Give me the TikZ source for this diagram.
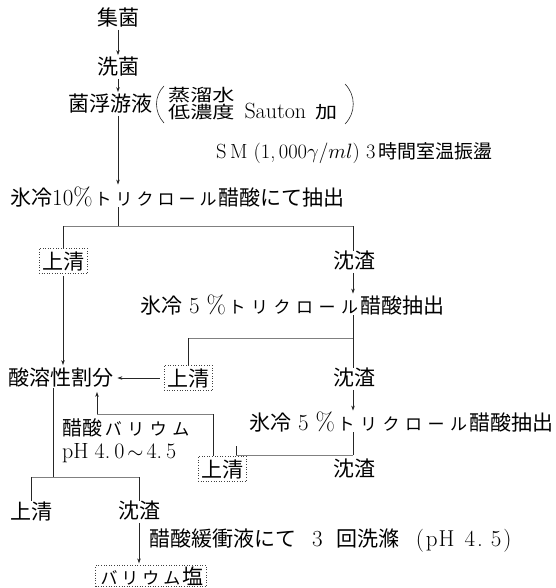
\documentclass[tikz,border=0pt]{standalone}
\usepackage{fontspec}
\usepackage{graphicx}
\newfontfamily\jp{Noto Sans CJK JP}
\usetikzlibrary{arrows.meta}
\newcommand\kc[1]{\makebox[21pt]{\fontsize{17}{17}\selectfont #1}}
\newcommand\kcw[1]{\makebox[22.5pt]{\fontsize{17}{17}\selectfont #1}}
\newcommand\lt[1]{{\rmfamily\fontsize{23}{24}\selectfont #1}}
\newcommand\pct{{\rmfamily\fontsize{25}{25}\selectfont\%}}
\begin{document}
\begin{tikzpicture}[x=1pt,y=-1pt,
  lbl/.style={font=\fontsize{21}{23}\selectfont\jp, inner sep=0pt},
  small/.style={font=\fontsize{17}{18}\selectfont\jp, inner sep=0pt},
  dbox/.style={lbl, draw=black!75, dotted, line width=0.6pt, inner sep=3pt},
  ln/.style={line width=0.6pt, black!85},
  hl/.style={line width=0.5pt, black!50},
  arr/.style={ln, -{Stealth[length=5pt,width=3.5pt]}},
]
\useasboundingbox[fill=white] (0,0) rectangle (555,588);

% top chain
\node[lbl] (jk) at (118,18) {集菌};
\node[lbl] (sk) at (118,67) {洗菌};
\node[lbl, anchor=east] (kf) at (153,104) {菌浮游液};
\draw[arr, shorten <=2pt, shorten >=2pt] (jk.south) -- (sk.north);
\draw[arr, shorten <=2pt, shorten >=2pt] (sk.south) -- (sk.south |- kf.north);

% bracket text
\node[small, anchor=west] (b1) at (168,95) {\scalebox{1.3}[1]{蒸溜水}};
\node[small, anchor=west] (b2) at (168,112) {\scalebox{1.3}[1]{低濃度}\hspace{10pt}{\rmfamily\fontsize{22}{22}\selectfont Sauton}\hspace{9pt}\scalebox{1.3}[1]{加}};
\draw[ln] (164,86) .. controls (154,96) and (154,112) .. (164,123);
\draw[ln] (345,84) .. controls (356,95) and (356,113) .. (345,124);

\node[lbl, anchor=west, font=\fontsize{19}{22}\selectfont\jp] (sm) at (216,153) {{\rmfamily\fontsize{20.5}{22}\selectfont S\,M\ (1,\,000$\gamma/ml$)\ 3}\,時間室温振盪};

% first extraction
\node[lbl, anchor=west] (hy10) at (10,197) {氷冷\lt{10}\pct\kc{ト}\kc{リ}\kc{ク}\kc{ロ}\kc{ー}\kc{ル}醋酸にて抽出};
\draw[arr, shorten <=2pt, shorten >=2pt] (sk.south |- kf.south) -- (sk.south |- hy10.north);
\coordinate (j1) at (118,226);
\draw[ln] (sk.south |- hy10.south) -- (j1);
\coordinate (j1l) at (63,226);
\coordinate (j1r) at (353,226);
\draw[hl] (j1l) -- (j1r);

\node[dbox] (us1) at (63,261) {上清};
\node[lbl] (cz1) at (354,261) {沈渣};
\draw[ln] (j1l) -- (us1.north);
\draw[ln] (j1r) -- (j1r |- cz1.north);

% second extraction
\node[lbl, anchor=west] (hy5a) at (140,305) {氷冷\lt{\ 5\ }\pct\kcw{ト}\kcw{リ}\kcw{ク}\kcw{ロ}\kcw{ー}\kcw{ル}醋酸抽出};
\draw[arr, shorten <=2pt, shorten >=1pt] (j1r |- cz1.south) -- (j1r |- hy5a.north);

\node[lbl, anchor=west] (sy) at (8,378) {酸溶性割分};
\node[dbox] (us2) at (188,378) {上清};
\node[lbl] (cz2) at (354,378) {沈渣};
\coordinate (j2r) at (353,338);
\coordinate (j2l) at (188,338);
\draw[ln] (j1r |- hy5a.south) -- (j1r |- cz2.north);
\draw[hl] (j2l) -- (j2r);
\draw[ln] (j2l) -- (us2.north);
\draw[arr, shorten <=4pt, shorten >=4pt] (us2.west) -- (sy.east);
\draw[arr, shorten <=2pt, shorten >=3pt] (j1l |- us1.south) -- (j1l |- sy.north);

% third extraction
\node[lbl, anchor=west] (hy5b) at (249,422) {氷冷\lt{\ 5\ }\pct\kcw{ト}\kcw{リ}\kcw{ク}\kcw{ロ}\kcw{ー}\kcw{ル}醋酸抽出};
\draw[arr, shorten <=2pt, shorten >=1pt] (j1r |- cz2.south) -- (j1r |- hy5b.north);
\coordinate (j3r) at (353,455);
\coordinate (j3l) at (236,455);
\draw[ln] (j1r |- hy5b.south) -- (j3r);
\draw[hl] (j3l) -- (j3r);
\draw[ln] (j3l) -- ++(0,-9);
\node[dbox] (us3) at (222,469) {上清};
\node[lbl] (cz3) at (354,469) {沈渣};

% return of third supernatant
\coordinate (r1) at (213,414);
\coordinate (r2) at (97,414);
\draw[ln] (213,456) -- (r1);
\draw[hl] (r1) -- (r2);
\draw[arr, shorten >=4pt] (r2) -- (r2 |- sy.south);
\node[lbl, anchor=west, font=\fontsize{20}{22}\selectfont\jp] (ba) at (62,428) {醋酸\kcw{バ}\kcw{リ}\kcw{ウ}\kcw{ム}};
\node[lbl, anchor=west, font=\rmfamily\fontsize{22}{22}\selectfont] (ph) at (62,453) {pH\hspace{6pt}4.\hspace{4pt}0\hspace{3pt}$\sim$\hspace{3pt}4.\hspace{4pt}5};

% barium split
\coordinate (j4) at (53,477);
\coordinate (j4l) at (31,477);
\coordinate (j4r) at (139,477);
\draw[ln] (j4 |- sy.south) -- (j4);
\draw[hl] (j4l) -- (j4r);
\node[lbl] (us4) at (31,511) {上清};
\node[lbl] (cz4) at (139,511) {沈渣};
\draw[ln] (j4l) -- (us4.north);
\draw[ln] (j4r) -- (cz4.north);

\node[dbox, inner ysep=1pt] (bs) at (151,576) {\kc{バ}\kc{リ}\kc{ウ}\kc{ム}塩};
\draw[arr, shorten <=2pt, shorten >=2pt] (j4r |- cz4.south) -- (j4r |- bs.north);
\node[lbl, anchor=west] (wl) at (149,541) {醋酸緩衝液にて\hspace{16pt}\lt{3}\hspace{14pt}回洗滌\hspace{16pt}\lt{(\hspace{2pt}p\hspace{1pt}H\hspace{10pt}4\hspace{2pt}.\hspace{8pt}5\hspace{2pt})}};
\end{tikzpicture}
\end{document}
